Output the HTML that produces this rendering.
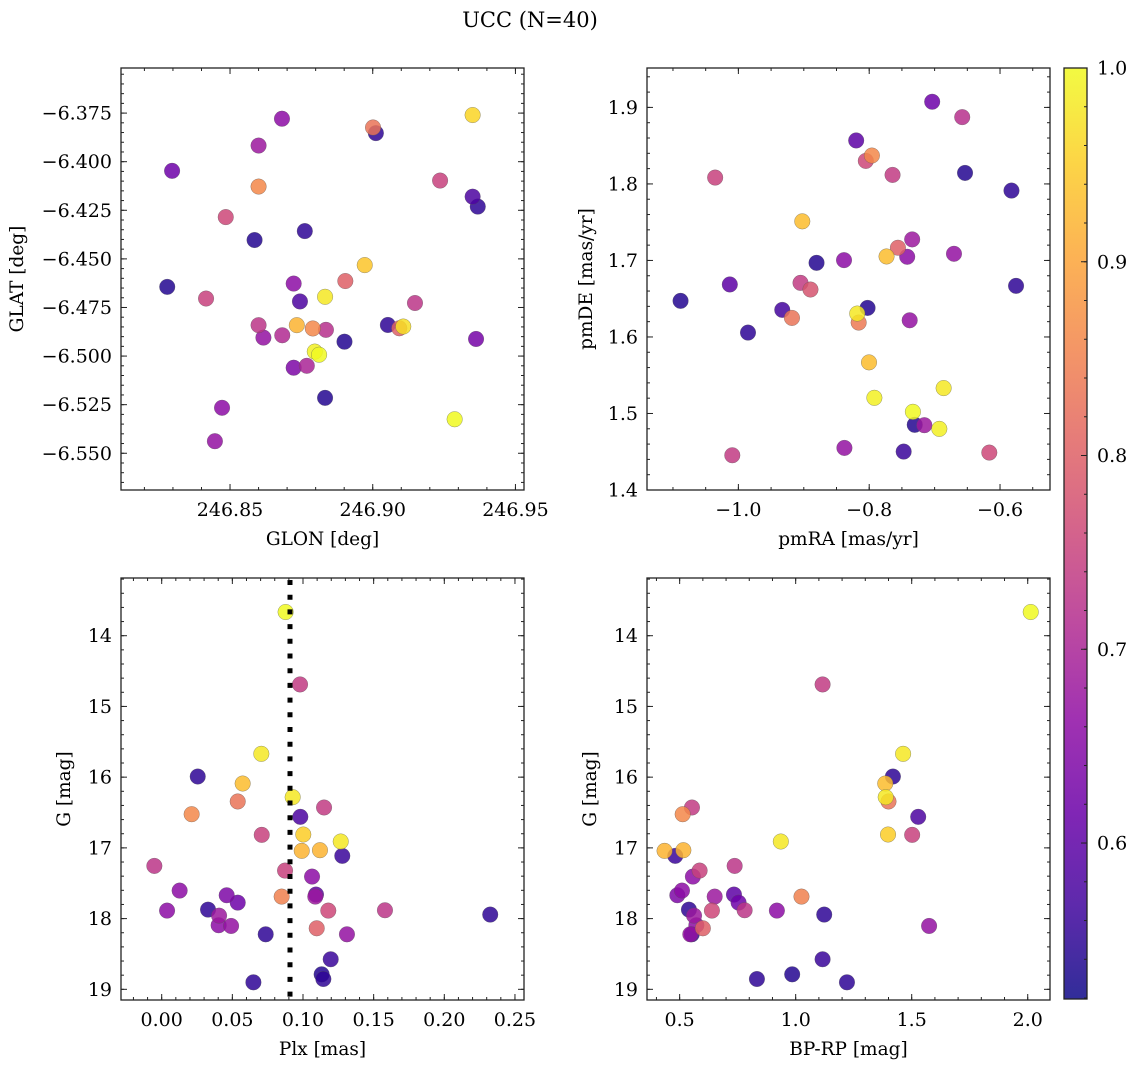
<!DOCTYPE html>
<html><head><meta charset="utf-8"><title>UCC (N=40)</title>
<style>
html,body{margin:0;padding:0;background:#fff;}
svg{display:block;font-family:"DejaVu Serif","Liberation Serif",serif;}
</style></head>
<body>
<svg id="fig" width="1136" height="1067" viewBox="0 0 1136 1067" xmlns="http://www.w3.org/2000/svg">
<text x="530" y="27" font-size="21" text-anchor="middle">UCC (N=40)</text>
</svg>
<script>
// ---- data ----
const glon = [246.8297,246.8280,246.8682,246.8600,246.8600,246.8485,246.8586,246.8762,246.8416,246.8723,246.8745,246.8600,246.8617,246.8683,246.8734,246.8790,246.8836,246.8833,246.8797,246.8812,246.8723,246.8769,246.8901,246.8833,246.8472,246.8447,246.9001,246.9011,246.8972,246.8904,246.9053,246.9093,246.9107,246.9148,246.9236,246.9350,246.9350,246.9368,246.9362,246.9287];
const glat = [-6.4047,-6.4644,-6.3779,-6.3917,-6.4128,-6.4285,-6.4403,-6.4357,-6.4704,-6.4627,-6.4719,-6.4841,-6.4905,-6.4893,-6.4841,-6.4858,-6.4865,-6.4695,-6.4977,-6.4993,-6.5060,-6.5050,-6.4926,-6.5215,-6.5266,-6.5438,-6.3824,-6.3853,-6.4532,-6.4614,-6.4840,-6.4857,-6.4848,-6.4727,-6.4097,-6.3760,-6.4180,-6.4231,-6.4912,-6.5325];
const probA = [0.62,0.54,0.66,0.68,0.86,0.76,0.54,0.55,0.75,0.66,0.58,0.73,0.67,0.71,0.92,0.86,0.72,0.98,0.99,1.0,0.64,0.70,0.54,0.54,0.66,0.67,0.83,0.55,0.94,0.80,0.55,0.80,0.97,0.73,0.75,0.96,0.58,0.55,0.63,1.0];

const pmra = [-1.0884,-1.0131,-1.0355,-0.9853,-1.0093,-0.9329,-0.9181,-0.9023,-0.9050,-0.8898,-0.8805,-0.8385,-0.8379,-0.8199,-0.8052,-0.7959,-0.8025,-0.8183,-0.8161,-0.8003,-0.7921,-0.7643,-0.7735,-0.7561,-0.7343,-0.7419,-0.7381,-0.7332,-0.7304,-0.7157,-0.7473,-0.7037,-0.6928,-0.6862,-0.6704,-0.6578,-0.6535,-0.6164,-0.5825,-0.5755];
const pmde = [1.6472,1.6686,1.8083,1.6057,1.4454,1.6354,1.6249,1.7511,1.6707,1.6620,1.6969,1.7004,1.4550,1.8568,1.8301,1.8371,1.6380,1.6306,1.6188,1.5668,1.5205,1.8118,1.7052,1.7166,1.7275,1.7048,1.6218,1.5022,1.4852,1.4847,1.4502,1.9074,1.4799,1.5332,1.7087,1.8873,1.8144,1.4489,1.7913,1.6668];
const probB = [0.54,0.60,0.75,0.55,0.74,0.57,0.83,0.93,0.74,0.78,0.54,0.66,0.67,0.60,0.76,0.86,0.54,0.98,0.84,0.93,0.99,0.74,0.93,0.80,0.68,0.66,0.67,1.0,0.54,0.68,0.56,0.62,0.99,0.98,0.67,0.72,0.54,0.76,0.55,0.55];

const plx = [0.0877,0.0979,0.0705,0.0255,0.0573,0.0927,0.0538,0.0212,0.1149,0.0981,0.0708,0.1002,0.0991,0.1120,0.1267,0.1278,-0.0052,0.0873,0.1064,0.0127,0.0460,0.0849,0.1092,0.1087,0.0538,0.0038,0.0328,0.0406,0.0403,0.0491,0.1179,0.1580,0.2325,0.0736,0.1097,0.1311,0.1196,0.1132,0.1144,0.0649];
const gmag = [13.665,14.689,15.670,15.991,16.090,16.283,16.344,16.524,16.429,16.561,16.816,16.811,17.042,17.033,16.910,17.113,17.255,17.321,17.406,17.604,17.670,17.689,17.660,17.689,17.774,17.887,17.873,17.958,18.094,18.104,17.887,17.882,17.943,18.222,18.137,18.222,18.575,18.788,18.854,18.901];
const bprp = [2.013,1.116,1.463,1.419,1.386,1.388,1.400,0.513,0.553,1.528,1.502,1.398,0.435,0.516,0.936,0.481,0.737,0.586,0.557,0.510,0.490,1.025,0.734,0.651,0.754,0.919,0.540,0.562,0.572,1.575,0.639,0.780,1.123,0.552,0.600,0.546,1.116,0.985,0.833,1.221];
const probC = [1.0,0.74,0.98,0.55,0.93,0.98,0.83,0.86,0.74,0.58,0.75,0.95,0.92,0.92,0.98,0.56,0.73,0.75,0.66,0.66,0.64,0.85,0.60,0.68,0.62,0.66,0.55,0.68,0.66,0.67,0.76,0.73,0.55,0.55,0.80,0.67,0.56,0.54,0.55,0.55];

const plxLine = 0.0908;

const ticksGlon = [246.85,246.90,246.95];
const labelsGlon = ["246.85","246.90","246.95"];
const ticksGlat = [-6.375,-6.4,-6.425,-6.45,-6.475,-6.5,-6.525,-6.55];
const labelsGlat = ["\u22126.375","\u22126.400","\u22126.425","\u22126.450","\u22126.475","\u22126.500","\u22126.525","\u22126.550"];
const ticksPmra = [-1.0,-0.8,-0.6];
const labelsPmra = ["\u22121.0","\u22120.8","\u22120.6"];
const ticksPmde = [1.4,1.5,1.6,1.7,1.8,1.9];
const labelsPmde = ["1.4","1.5","1.6","1.7","1.8","1.9"];
const ticksPlx = [0,0.05,0.1,0.15,0.2,0.25];
const labelsPlx = ["0.00","0.05","0.10","0.15","0.20","0.25"];
const ticksG = [14,15,16,17,18,19];
const labelsG = ["14","15","16","17","18","19"];
const ticksBprp = [0.5,1.0,1.5,2.0];
const labelsBprp = ["0.5","1.0","1.5","2.0"];
const ticksCb = [0.6,0.7,0.8,0.9,1.0];
const labelsCb = ["0.6","0.7","0.8","0.9","1.0"];

const cmin = 0.5195, cmax = 1.0;

// ---- helpers ----
const NS = "http://www.w3.org/2000/svg";
const svg = document.getElementById("fig");
const TFS = 19, LFS = 18.5;
function mk(tag, attrs, parent){
  const e = document.createElementNS(NS, tag);
  for (const k in attrs) e.setAttribute(k, attrs[k]);
  (parent||svg).appendChild(e);
  return e;
}
const plasma = [[13,8,135],[65,4,157],[106,0,168],[143,13,164],[177,42,144],[204,71,120],[225,100,98],[242,132,75],[252,166,54],[252,206,37],[240,249,33]];
function cmap(v){
  let t = (v - cmin)/(cmax - cmin); t = Math.max(0, Math.min(1, t));
  const f = t*10, i = Math.min(9, Math.floor(f)), r = f - i;
  const a = plasma[i], b = plasma[i+1];
  return "rgb(" + [0,1,2].map(k => Math.round(a[k] + (b[k]-a[k])*r)).join(",") + ")";
}

function panel(cfg){
  const g = mk("g", {});
  
  
  const B = cfg.box;
  const sx = v => B.x0 + (v - cfg.xmin)/(cfg.xmax - cfg.xmin)*(B.x1 - B.x0);
  const sy = v => B.y0 + (cfg.ytop - v)/(cfg.ytop - cfg.ybot)*(B.y1 - B.y0);
  const idx = cfg.xs.map((_, i) => i).sort((a, b) => cfg.cs[a] - cfg.cs[b]);
  const pg = mk("g", {}, g);
  
  
  idx.forEach(i => {
    const c = mk("circle", {cx: sx(cfg.xs[i]).toFixed(2), cy: sy(cfg.ys[i]).toFixed(2), r: 7.8, fill: cmap(cfg.cs[i]), "fill-opacity": 0.85, stroke: "#555", "stroke-width": 0.5, "stroke-opacity": 0.6}, pg);
    
    
  });
  if (cfg.vline !== undefined){
    const l = mk("line", {x1: sx(cfg.vline), x2: sx(cfg.vline), y1: B.y0 + 2, y2: B.y1, stroke: "#000", "stroke-width": 5, "stroke-dasharray": "5 9.7"}, g);
    
    
  }
  const fr = mk("rect", {x: B.x0, y: B.y0, width: B.x1 - B.x0, height: B.y1 - B.y0, fill: "none", stroke: "#222", "stroke-width": 1.3}, g);
  
  
  const tg = mk("g", {stroke: "#222", "stroke-width": 1}, g);
  
  
  const lo = Math.min(cfg.xmin, cfg.xmax), hi = Math.max(cfg.xmin, cfg.xmax);
  for (let k = Math.ceil(lo/cfg.xminor - 1e-6); k*cfg.xminor <= hi + 1e-9; k++){
    const x = sx(k*cfg.xminor);
    mk("line", {x1: x, x2: x, y1: B.y1, y2: B.y1 - 3}, tg);
    mk("line", {x1: x, x2: x, y1: B.y0, y2: B.y0 + 3}, tg);
  }
  const ylo = Math.min(cfg.ytop, cfg.ybot), yhi = Math.max(cfg.ytop, cfg.ybot);
  for (let k = Math.ceil(ylo/cfg.yminor - 1e-6); k*cfg.yminor <= yhi + 1e-9; k++){
    const y = sy(k*cfg.yminor);
    mk("line", {x1: B.x0, x2: B.x0 + 3, y1: y, y2: y}, tg);
    mk("line", {x1: B.x1, x2: B.x1 - 3, y1: y, y2: y}, tg);
  }
  cfg.xticks.forEach((v, i) => {
    const x = sx(v);
    mk("line", {x1: x, x2: x, y1: B.y1, y2: B.y1 - 6}, tg);
    mk("line", {x1: x, x2: x, y1: B.y0, y2: B.y0 + 6}, tg);
    const t = mk("text", {x: x, y: B.y1 + 26, "font-size": TFS, "text-anchor": "middle"}, g);
    t.textContent = cfg.xlabels[i];
    
    
  });
  cfg.yticks.forEach((v, i) => {
    const y = sy(v);
    mk("line", {x1: B.x0, x2: B.x0 + 6, y1: y, y2: y}, tg);
    mk("line", {x1: B.x1, x2: B.x1 - 6, y1: y, y2: y}, tg);
    const t = mk("text", {x: B.x0 - 9, y: y + 6.5, "font-size": TFS, "text-anchor": "end"}, g);
    t.textContent = cfg.ylabels[i];
    
    
  });
  const xt = mk("text", {x: (B.x0 + B.x1)/2, y: B.y1 + 55, "font-size": LFS, "text-anchor": "middle"}, g);
  xt.textContent = cfg.xtitle;
  
  
  const yx = cfg.ytitleX, yy = (B.y0 + B.y1)/2;
  const yt = mk("text", {x: yx, y: yy, "font-size": LFS, "text-anchor": "middle", transform: "rotate(-90 " + yx + " " + yy + ")"}, g);
  yt.textContent = cfg.ytitle;
  
  
}

panel({name: "panel-glon-glat", box: {x0: 121, x1: 524, y0: 68, y1: 490},
  xmin: 246.8118, xmax: 246.9530, ytop: -6.3518, ybot: -6.5689,
  xs: glon, ys: glat, cs: probA, xticks: ticksGlon, xlabels: labelsGlon, yticks: ticksGlat, ylabels: labelsGlat,
  xminor: 0.01, yminor: 0.005, xtitle: "GLON [deg]", ytitle: "GLAT [deg]", ytitleX: 23});
panel({name: "panel-pmra-pmde", box: {x0: 647, x1: 1050, y0: 68, y1: 490},
  xmin: -1.1397, xmax: -0.5236, ytop: 1.9515, ybot: 1.4,
  xs: pmra, ys: pmde, cs: probB, xticks: ticksPmra, xlabels: labelsPmra, yticks: ticksPmde, ylabels: labelsPmde,
  xminor: 0.05, yminor: 0.02, xtitle: "pmRA [mas/yr]", ytitle: "pmDE [mas/yr]", ytitleX: 592});
panel({name: "panel-plx-g", box: {x0: 121, x1: 524, y0: 578, y1: 1000},
  xmin: -0.0288, xmax: 0.2564, ytop: 13.184, ybot: 19.151,
  xs: plx, ys: gmag, cs: probC, xticks: ticksPlx, xlabels: labelsPlx, yticks: ticksG, ylabels: labelsG,
  xminor: 0.01, yminor: 0.2, xtitle: "Plx [mas]", ytitle: "G [mag]", ytitleX: 70, vline: plxLine});
panel({name: "panel-bprp-g", box: {x0: 647, x1: 1050, y0: 578, y1: 1000},
  xmin: 0.3593, xmax: 2.096, ytop: 13.184, ybot: 19.151,
  xs: bprp, ys: gmag, cs: probC, xticks: ticksBprp, xlabels: labelsBprp, yticks: ticksG, ylabels: labelsG,
  xminor: 0.1, yminor: 0.2, xtitle: "BP-RP [mag]", ytitle: "G [mag]", ytitleX: 596});

(function(){
  const cb = {x0: 1064, x1: 1087, y0: 68, y1: 999};
  const g = mk("g", {});
  
  
  const defs = mk("defs", {}, g);
  const lg = mk("linearGradient", {id: "cbgrad", x1: 0, y1: 1, x2: 0, y2: 0}, defs);
  for (let i = 0; i <= 20; i++){
    const v = cmin + (cmax - cmin)*i/20;
    mk("stop", {offset: (i/20), "stop-color": cmap(v), "stop-opacity": 0.85}, lg);
  }
  const r = mk("rect", {x: cb.x0, y: cb.y0, width: cb.x1 - cb.x0, height: cb.y1 - cb.y0, fill: "url(#cbgrad)", stroke: "#222", "stroke-width": 1.3}, g);
  
  
  const sy = v => cb.y1 - (v - cmin)/(cmax - cmin)*(cb.y1 - cb.y0);
  for (let k = Math.ceil(cmin/0.02); k*0.02 <= cmax + 1e-9; k++){
    const y = sy(k*0.02);
    mk("line", {x1: cb.x1, x2: cb.x1 - 3, y1: y, y2: y, stroke: "#222"}, g);
  }
  ticksCb.forEach((v, i) => {
    const y = sy(v);
    mk("line", {x1: cb.x1, x2: cb.x1 - 6, y1: y, y2: y, stroke: "#222"}, g);
    const t = mk("text", {x: cb.x1 + 10, y: y + 6.5, "font-size": TFS}, g);
    t.textContent = labelsCb[i];
    
    
  });
})();
</script>
</body></html>
